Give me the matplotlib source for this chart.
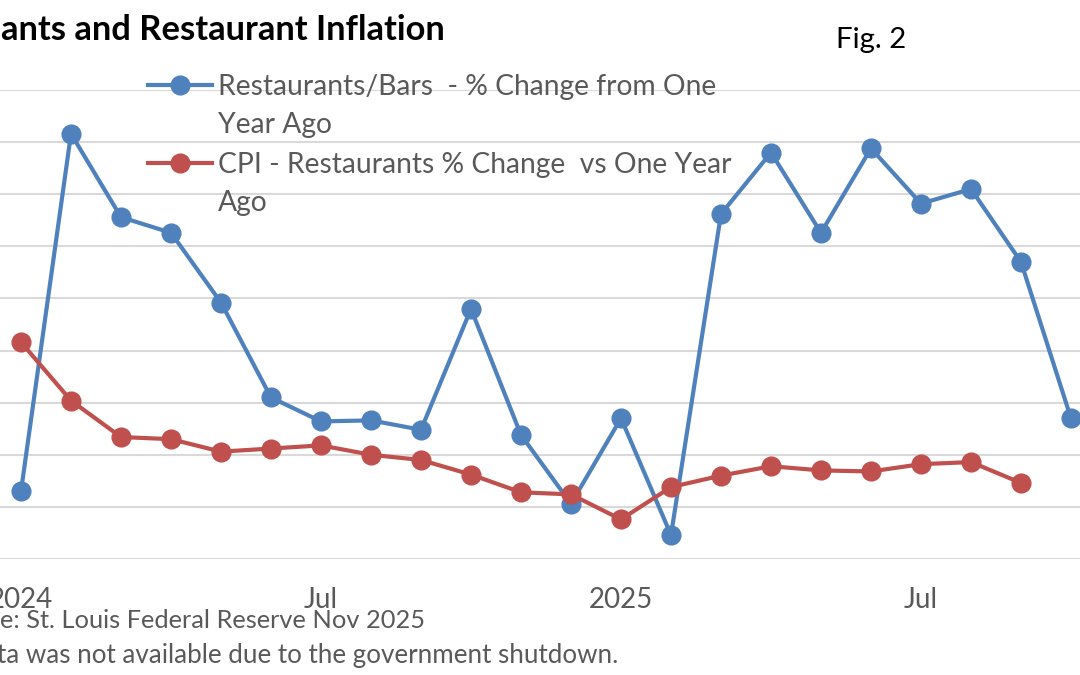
import matplotlib
matplotlib.use("Agg")
import matplotlib.pyplot as plt
from matplotlib.lines import Line2D

plt.rcParams['font.family'] = ['Lato', 'DejaVu Sans']

months = ["Jan 2024", "Feb", "Mar", "Apr", "May", "Jun", "Jul", "Aug", "Sep", "Oct", "Nov", "Dec",
          "Jan 2025", "Feb", "Mar", "Apr", "May", "Jun", "Jul", "Aug", "Sep", "Oct"]
restaurants_bars = [3.65, 7.08, 6.28, 6.13, 5.46, 4.55, 4.32, 4.33, 4.24, 5.40, 4.19, 3.53,
                    4.35, 3.23, 6.31, 6.90, 6.13, 6.94, 6.41, 6.55, 5.85, 4.35]
cpi_restaurants = [5.08, 4.52, 4.17, 4.15, 4.03, 4.06, 4.09, 4.00, 3.95, 3.81, 3.64, 3.62,
                   3.38, 3.69, 3.80, 3.89, 3.85, 3.84, 3.91, 3.93, 3.73]
tick_positions = [0, 6, 12, 18]
tick_labels = ["2024", "Jul", "2025", "Jul"]
label_blue = "Restaurants/Bars  - % Change from One\nYear Ago"
label_red = "CPI - Restaurants % Change  vs One Year\nAgo"

BLUE = "#4F81BD"
RED = "#C0504D"
GRAY = "#595959"

W, H = 1080, 675
fig = plt.figure(figsize=(W / 100, H / 100), dpi=100)
ax = fig.add_axes([0, (H - 559) / H, 1, (559 - 90) / H])

x_b = list(range(len(restaurants_bars)))
x_r = list(range(len(cpi_restaurants)))
ax.plot(x_b, restaurants_bars, color=BLUE, lw=3.0, marker='o', ms=13.5, clip_on=False, zorder=3)
ax.plot(x_r, cpi_restaurants, color=RED, lw=3.0, marker='o', ms=13.5, clip_on=False, zorder=4)

ax.set_xlim(-21 / 50, (W - 21) / 50)
ax.set_ylim(3.0, 7.5)
ax.set_yticks([3.0 + 0.5 * i for i in range(10)])
ax.yaxis.grid(True, color="#D9D9D9", lw=1.5)
ax.set_axisbelow(True)
ax.tick_params(axis='y', left=False, labelleft=False)
ax.set_xticks(tick_positions)
ax.set_xticklabels(tick_labels, fontsize=20, color=GRAY)
ax.tick_params(axis='x', length=0, pad=20)
for s in ax.spines.values():
    s.set_visible(False)

# legend drawn manually
def px(x, y):
    return x / W, 1 - y / H

for (yl, col, lab) in [(85, BLUE, label_blue), (163, RED, label_red)]:
    fig.add_artist(Line2D([148 / W, 212 / W], [1 - yl / H] * 2, color=col, lw=3.0,
                          transform=fig.transFigure))
    fig.add_artist(Line2D([180 / W], [1 - yl / H], color=col, marker='o', ms=13.5,
                          transform=fig.transFigure))
    fig.text(*px(218, yl + 48), lab, fontsize=20.3, color=GRAY, ha='left', va='baseline',
             linespacing=1.55)

fig.text(*px(445, 40), "ants and Restaurant Inflation", fontsize=24.8, fontweight='bold',
         color='black', ha='right', va='baseline')
fig.text(*px(836, 48), "Fig. 2", fontsize=21.2, color='black', ha='left', va='baseline')
fig.text(*px(425, 628), "e: St. Louis Federal Reserve Nov 2025", fontsize=18.3, color=GRAY,
         ha='right', va='baseline')
fig.text(*px(618, 663), "ta was not available due to the government shutdown.", fontsize=18.7,
         color=GRAY, ha='right', va='baseline')

fig.savefig("out.png", dpi=100)
